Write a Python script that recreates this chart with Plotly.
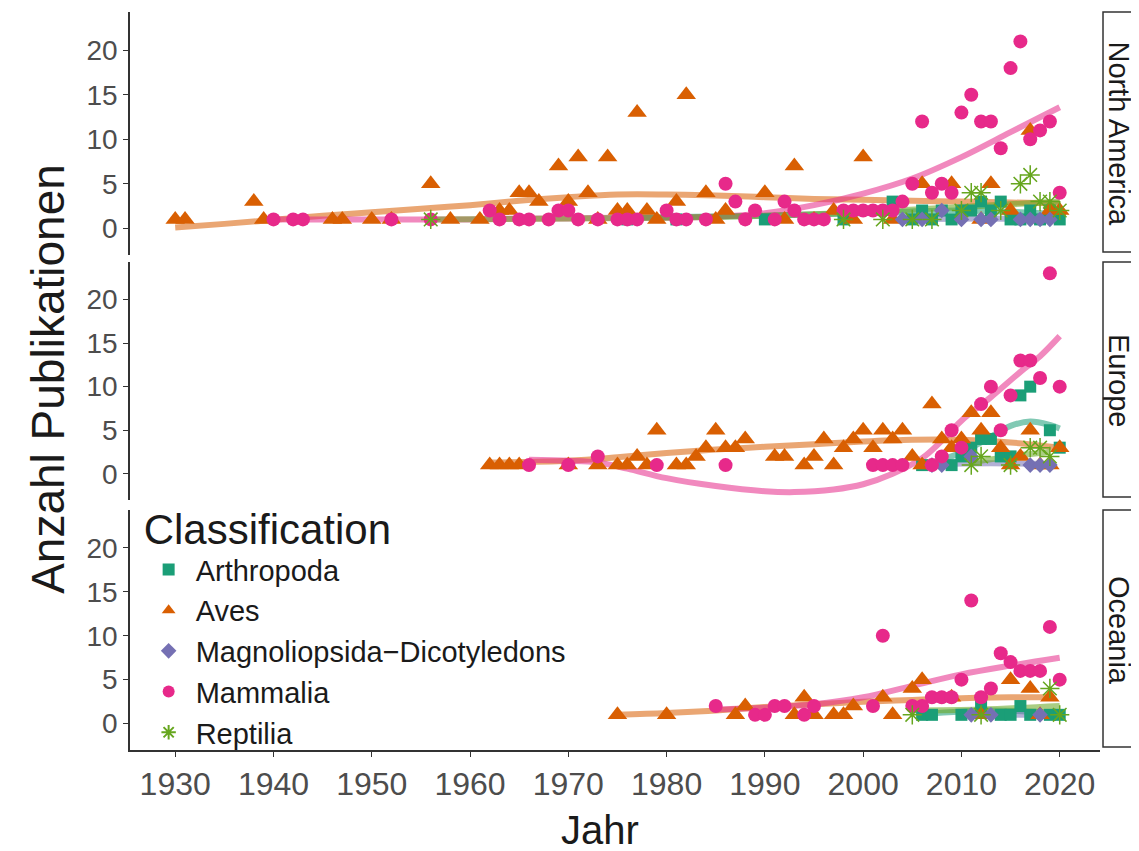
import plotly.graph_objects as go
from plotly.subplots import make_subplots

# ---------------- data ----------------
regions = ["North America", "Europe", "Oceania"]
classes = ["Arthropoda", "Aves", "Magnoliopsida\u2212Dicotyledons", "Mammalia", "Reptilia"]
class_colors = ["#1b9e77", "#d95f02", "#7570b3", "#e7298a", "#66a61e"]
class_symbols = ["square", "triangle-up", "diamond", "circle", "asterisk-open"]
x_ticks = [1930, 1940, 1950, 1960, 1970, 1980, 1990, 2000, 2010, 2020]
y_ticks = [0, 5, 10, 15, 20]

# North America points
na_arthropoda_year = [1976, 1981, 1990, 1998, 2003, 2005, 2006, 2007, 2008, 2009, 2010, 2011, 2012, 2013, 2014, 2015, 2016, 2017, 2018, 2019, 2020]
na_arthropoda_n = [1, 1, 1, 1, 3, 1, 2, 1, 2, 1, 2, 2, 3, 2, 3, 1, 1, 2, 1, 2, 1]
na_aves_year = [1930, 1931, 1938, 1939, 1946, 1947, 1950, 1952, 1956, 1958, 1961, 1963, 1964, 1965, 1966, 1967, 1969, 1970,
                1971, 1972, 1973, 1974, 1975, 1976, 1977, 1978, 1979, 1981, 1982, 1984, 1985, 1986, 1990, 1992, 1993, 1995,
                1997, 1999, 2000, 2003, 2006, 2009, 2012, 2013, 2015, 2017, 2019, 2020]
na_aves_n = [1, 1, 3, 1, 1, 1, 1, 1, 5, 1, 1, 2, 2, 4, 4, 3, 7, 3,
             8, 4, 1, 8, 2, 2, 13, 2, 1, 3, 15, 4, 1, 2, 4, 1, 7, 1,
             2, 1, 8, 1, 5, 5, 1, 5, 2, 11, 2, 2]
na_magnolio_year = [2004, 2006, 2008, 2010, 2012, 2013, 2016, 2017, 2018, 2019]
na_magnolio_n = [1, 1, 2, 1, 1, 1, 1, 1, 1, 1]
na_mammalia_year = [1940, 1942, 1943, 1952, 1956, 1962, 1963, 1965, 1966, 1968, 1969, 1970, 1971, 1973, 1975, 1976, 1977,
                    1980, 1981, 1982, 1984, 1986, 1987, 1988, 1989, 1991, 1992, 1993, 1994, 1995, 1996, 1998, 1999, 2000,
                    2001, 2002, 2003, 2004, 2005, 2006, 2007, 2008, 2009, 2010, 2011, 2012, 2013, 2014, 2015, 2016, 2017,
                    2018, 2019, 2020]
na_mammalia_n = [1, 1, 1, 1, 1, 2, 1, 1, 1, 1, 2, 2, 1, 1, 1, 1, 1,
                 2, 1, 1, 1, 5, 3, 1, 2, 1, 3, 2, 1, 1, 1, 2, 2, 2,
                 2, 2, 2, 3, 5, 12, 4, 5, 4, 13, 15, 12, 12, 9, 18, 21, 10,
                 11, 12, 4]
na_reptilia_year = [1956, 1998, 2002, 2005, 2007, 2010, 2011, 2012, 2014, 2016, 2017, 2018, 2019, 2020]
na_reptilia_n = [1, 1, 1, 1, 1, 2, 4, 4, 2, 5, 6, 3, 3, 2]

# Europe points
eu_arthropoda_year = [2006, 2009, 2010, 2011, 2012, 2013, 2014, 2015, 2016, 2017, 2019, 2020]
eu_arthropoda_n = [1, 1, 2, 3, 4, 4, 2, 2, 9, 10, 5, 3]
eu_aves_year = [1962, 1963, 1964, 1965, 1970, 1973, 1975, 1976, 1977, 1978, 1979, 1981, 1982, 1983, 1984, 1985, 1986,
                1987, 1988, 1991, 1992, 1994, 1995, 1996, 1997, 1998, 1999, 2000, 2001, 2002, 2003, 2004, 2005, 2006,
                2007, 2008, 2009, 2010, 2011, 2012, 2013, 2014, 2015, 2016, 2017, 2018, 2019, 2020]
eu_aves_n = [1, 1, 1, 1, 1, 1, 1, 1, 2, 1, 5, 1, 1, 2, 3, 5, 3,
             3, 4, 2, 2, 1, 2, 4, 1, 3, 4, 5, 3, 5, 4, 5, 2, 1,
             8, 4, 3, 4, 7, 5, 7, 3, 1, 2, 5, 1, 1, 3]
eu_magnolio_year = [2007, 2008, 2011, 2017, 2018, 2019]
eu_magnolio_n = [1, 1, 2, 1, 1, 1]
eu_mammalia_year = [1966, 1970, 1973, 1979, 1986, 2001, 2002, 2003, 2004, 2007, 2008, 2009, 2010, 2012, 2013, 2014,
                    2015, 2016, 2017, 2018, 2019, 2020]
eu_mammalia_n = [1, 1, 2, 1, 1, 1, 1, 1, 1, 1, 2, 5, 3, 8, 10, 5, 9, 13, 13, 11, 23, 10]
eu_reptilia_year = [2011, 2012, 2015, 2017, 2018, 2019]
eu_reptilia_n = [1, 2, 1, 3, 3, 2]

# Oceania points
oc_arthropoda_year = [2006, 2007, 2010, 2012, 2014, 2015, 2016, 2017, 2019, 2020]
oc_arthropoda_n = [1, 1, 1, 2, 1, 1, 2, 1, 1, 1]
oc_aves_year = [1975, 1980, 1987, 1988, 1993, 1994, 1995, 1997, 1998, 1999, 2002, 2003, 2005, 2006, 2009, 2012, 2015,
                2017, 2018, 2019]
oc_aves_n = [1, 1, 1, 2, 1, 3, 1, 1, 1, 2, 3, 1, 4, 5, 3, 1, 5, 4, 1, 3]
oc_magnolio_year = [2011, 2013, 2018]
oc_magnolio_n = [1, 1, 1]
oc_mammalia_year = [1985, 1989, 1990, 1991, 1992, 1994, 1995, 2001, 2002, 2005, 2006, 2007, 2008, 2009, 2010, 2011,
                    2012, 2013, 2014, 2015, 2016, 2017, 2018, 2019, 2020]
oc_mammalia_n = [2, 1, 1, 2, 2, 1, 2, 2, 10, 2, 2, 3, 3, 3, 5, 14, 3, 4, 8, 7, 6, 6, 6, 11, 5]
oc_reptilia_year = [2005, 2012, 2019, 2020]
oc_reptilia_n = [1, 1, 4, 1]

# Smoothed trend curves
na_arthropoda_fit_year = [1976, 1990, 2000, 2010, 2020]
na_arthropoda_fit = [1.2, 1.4, 1.7, 2.0, 1.6]
na_aves_fit_year = [1930, 1935, 1940, 1945, 1950, 1955, 1960, 1965, 1970, 1975, 1980, 1985, 1990, 1995, 2000, 2005, 2010, 2015, 2020]
na_aves_fit = [0.1, 0.5, 0.95, 1.4, 1.8, 2.2, 2.6, 3.1, 3.5, 3.8, 3.8, 3.7, 3.5, 3.3, 3.2, 3.1, 3.0, 2.9, 2.8]
na_magnolio_fit_year = [2004, 2012, 2019]
na_magnolio_fit = [1.0, 1.1, 1.0]
na_mammalia_fit_year = [1940, 1945, 1950, 1955, 1960, 1965, 1970, 1975, 1980, 1985, 1990, 1995, 2000, 2005, 2010, 2015, 2020]
na_mammalia_fit = [1.0, 1.0, 1.0, 1.0, 1.0, 1.1, 1.1, 1.2, 1.2, 1.3, 1.7, 2.6, 3.9, 5.6, 8.0, 10.8, 13.6]
na_reptilia_fit_year = [1956, 1970, 1980, 1990, 2000, 2010, 2020]
na_reptilia_fit = [1.0, 1.1, 1.2, 1.4, 1.8, 2.4, 3.0]

eu_arthropoda_fit_year = [2006, 2009, 2012, 2015, 2017, 2019, 2020]
eu_arthropoda_fit = [1.0, 2.0, 3.6, 5.5, 6.0, 5.6, 5.2]
eu_aves_fit_year = [1962, 1970, 1975, 1980, 1985, 1990, 1995, 2000, 2005, 2010, 2015, 2020]
eu_aves_fit = [1.3, 1.5, 1.9, 2.4, 2.8, 3.1, 3.4, 3.7, 3.9, 3.9, 3.6, 3.0]
eu_magnolio_fit_year = [2007, 2013, 2019]
eu_magnolio_fit = [1.1, 1.2, 1.1]
eu_mammalia_fit_year = [1966, 1970, 1973, 1976, 1980, 1985, 1990, 1993, 1997, 2000, 2003, 2006, 2008, 2010, 2013, 2016, 2018, 2020]
eu_mammalia_fit = [1.6, 1.5, 1.3, 0.6, -0.5, -1.4, -2.0, -2.1, -1.8, -1.2, 0.0, 1.8, 3.8, 6.1, 8.8, 11.7, 13.5, 15.8]
eu_reptilia_fit_year = [2011, 2015, 2019]
eu_reptilia_fit = [1.3, 2.0, 2.5]

oc_arthropoda_fit_year = [2006, 2013, 2020]
oc_arthropoda_fit = [1.1, 1.5, 1.2]
oc_aves_fit_year = [1975, 1980, 1985, 1990, 1995, 2000, 2005, 2010, 2015, 2019]
oc_aves_fit = [1.0, 1.2, 1.5, 1.9, 2.2, 2.5, 2.7, 2.9, 3.0, 3.0]
oc_magnolio_fit_year = [2011, 2018]
oc_magnolio_fit = [1.0, 1.0]
oc_mammalia_fit_year = [1985, 1990, 1995, 2000, 2005, 2010, 2015, 2020]
oc_mammalia_fit = [1.6, 1.8, 2.2, 3.0, 4.3, 5.6, 6.6, 7.5]
oc_reptilia_fit_year = [2005, 2012, 2020]
oc_reptilia_fit = [1.5, 1.6, 2.0]

points = [
    [(na_arthropoda_year, na_arthropoda_n), (na_aves_year, na_aves_n), (na_magnolio_year, na_magnolio_n),
     (na_mammalia_year, na_mammalia_n), (na_reptilia_year, na_reptilia_n)],
    [(eu_arthropoda_year, eu_arthropoda_n), (eu_aves_year, eu_aves_n), (eu_magnolio_year, eu_magnolio_n),
     (eu_mammalia_year, eu_mammalia_n), (eu_reptilia_year, eu_reptilia_n)],
    [(oc_arthropoda_year, oc_arthropoda_n), (oc_aves_year, oc_aves_n), (oc_magnolio_year, oc_magnolio_n),
     (oc_mammalia_year, oc_mammalia_n), (oc_reptilia_year, oc_reptilia_n)],
]
fits = [
    [(na_arthropoda_fit_year, na_arthropoda_fit), (na_aves_fit_year, na_aves_fit), (na_magnolio_fit_year, na_magnolio_fit),
     (na_mammalia_fit_year, na_mammalia_fit), (na_reptilia_fit_year, na_reptilia_fit)],
    [(eu_arthropoda_fit_year, eu_arthropoda_fit), (eu_aves_fit_year, eu_aves_fit), (eu_magnolio_fit_year, eu_magnolio_fit),
     (eu_mammalia_fit_year, eu_mammalia_fit), (eu_reptilia_fit_year, eu_reptilia_fit)],
    [(oc_arthropoda_fit_year, oc_arthropoda_fit), (oc_aves_fit_year, oc_aves_fit), (oc_magnolio_fit_year, oc_magnolio_fit),
     (oc_mammalia_fit_year, oc_mammalia_fit), (oc_reptilia_fit_year, oc_reptilia_fit)],
]

# ---------------- figure ----------------
FONT = "Liberation Sans, Arial, sans-serif"
fig = make_subplots(rows=3, cols=1, shared_xaxes=True, vertical_spacing=0.01)

marker_sizes = [12, 17, 12, 14, 16]

for r in range(3):
    for c in range(5):
        fy, fv = fits[r][c]
        fig.add_trace(go.Scatter(
            x=fy, y=fv, mode="lines", line=dict(color=class_colors[c], width=6, shape="spline"),
            opacity=0.55, showlegend=False, hoverinfo="skip"), row=r + 1, col=1)
    for c in range(5):
        py, pv = points[r][c]
        mk = dict(color=class_colors[c], size=marker_sizes[c], symbol=class_symbols[c], line=dict(width=0))
        if class_symbols[c] == "asterisk-open":
            mk["line"] = dict(width=1.5, color=class_colors[c])
        fig.add_trace(go.Scatter(
            x=py, y=pv, mode="markers", marker=mk, name=classes[c], legendgroup=classes[c],
            showlegend=(r == 0)), row=r + 1, col=1)

# plot area spans page pixels x 130..1100, y 12..750 (page has an 8px body margin)
domains = [[0.6707, 1.0], [0.3388, 0.6612], [0.0, 0.3252]]
for r in range(3):
    yname = "yaxis" if r == 0 else "yaxis%d" % (r + 1)
    xname = "xaxis" if r == 0 else "xaxis%d" % (r + 1)
    fig.layout[yname].update(
        domain=domains[r], range=[-3.0, 24.3], tickvals=y_ticks, showgrid=False, zeroline=False,
        showline=True, linecolor="#333333", linewidth=1.5, ticks="outside", ticklen=5, tickcolor="#333333",
        tickfont=dict(family=FONT, size=28, color="#4d4d4d"))
    fig.layout[xname].update(
        range=[1925.4, 2024.1], tickvals=x_ticks, showgrid=False, zeroline=False,
        showline=(r == 2), linecolor="#333333", linewidth=1.5,
        ticks="outside" if r == 2 else "", ticklen=5, tickcolor="#333333",
        showticklabels=(r == 2), tickfont=dict(family=FONT, size=32, color="#4d4d4d"))

shapes = []
annotations = []
for r in range(3):
    d0, d1 = domains[r]
    shapes.append(dict(type="rect", xref="paper", yref="paper", x0=1.0031, x1=1.06, y0=d0 + 0.004, y1=d1,
                       line=dict(color="#333333", width=1.5), fillcolor="white", layer="below"))
    annotations.append(dict(text=regions[r], xref="paper", yref="paper", x=1.0196, y=(d0 + d1) / 2,
                            textangle=90, showarrow=False, xanchor="center", yanchor="middle",
                            font=dict(family=FONT, size=29, color="#1a1a1a")))

annotations.append(dict(text="Anzahl Publikationen", xref="paper", yref="paper", x=-0.0845, y=0.503,
                        textangle=-90, showarrow=False, xanchor="center", yanchor="middle",
                        font=dict(family=FONT, size=46, color="#1a1a1a")))
annotations.append(dict(text="Jahr", xref="paper", yref="paper", x=0.4845, y=-0.108,
                        showarrow=False, xanchor="center", yanchor="middle",
                        font=dict(family=FONT, size=40, color="#1a1a1a")))

fig.update_layout(
    width=1131, height=843,
    margin=dict(l=122, r=39, t=4, b=101),
    paper_bgcolor="white", plot_bgcolor="white",
    shapes=shapes, annotations=annotations,
    legend=dict(x=0.012, y=0.353, xanchor="left", yanchor="top", bgcolor="rgba(0,0,0,0)",
                title=dict(text="Classification", font=dict(family=FONT, size=42, color="#1a1a1a")),
                font=dict(family=FONT, size=29, color="#1a1a1a"), tracegroupgap=0, itemsizing="constant",
                itemwidth=44),
    showlegend=True,
)

fig.write_html("out.html")
